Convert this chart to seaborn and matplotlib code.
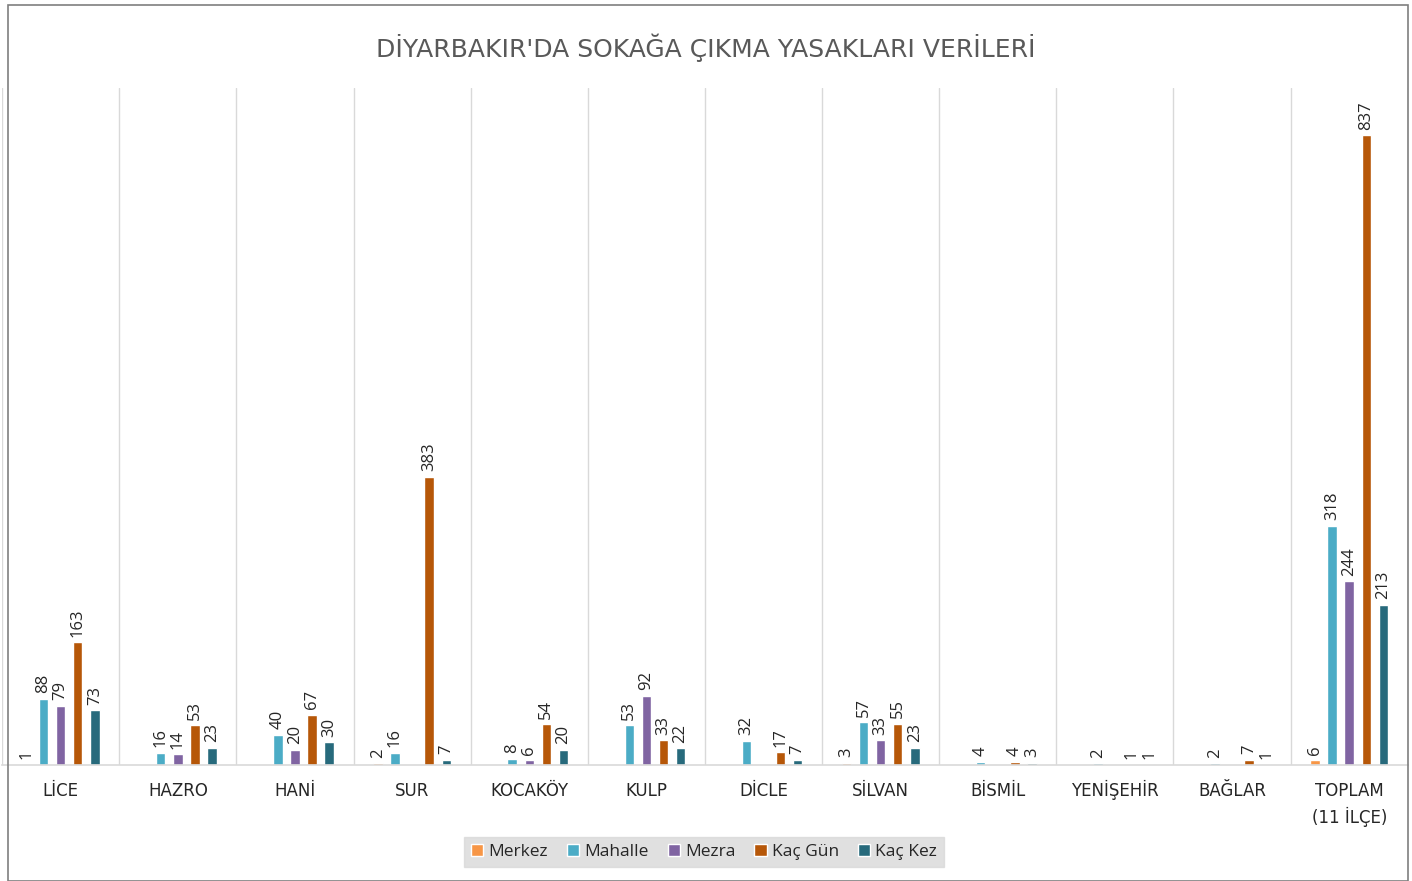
import numpy as np
import pandas as pd
import matplotlib.pyplot as plt
import seaborn as sns
from matplotlib.patches import Rectangle
from matplotlib.transforms import ScaledTranslation


ilceler = ["LİCE", "HAZRO", "HANİ", "SUR", "KOCAKÖY", "KULP", "DİCLE",
           "SİLVAN", "BİSMİL", "YENİŞEHİR", "BAĞLAR", "TOPLAM\n(11 İLÇE)"]
seriler = ["Merkez", "Mahalle", "Mezra", "Kaç Gün", "Kaç Kez"]

merkez = [1, np.nan, np.nan, 2, np.nan, np.nan, np.nan, 3, np.nan, np.nan, np.nan, 6]
mahalle = [88, 16, 40, 16, 8, 53, 32, 57, 4, 2, 2, 318]
mezra = [79, 14, 20, np.nan, 6, 92, np.nan, 33, np.nan, np.nan, np.nan, 244]
kac_gun = [163, 53, 67, 383, 54, 33, 17, 55, 4, 1, 7, 837]
kac_kez = [73, 23, 30, 7, 20, 22, 7, 23, 3, 1, 1, 213]

renkler = ["#F79646", "#4BACC6", "#8064A2", "#B65708", "#276A7C"]

rows = []
for seri, degerler in zip(seriler, [merkez, mahalle, mezra, kac_gun, kac_kez]):
    for ilce, d in zip(ilceler, degerler):
        rows.append({"ilce": ilce, "seri": seri, "deger": d})
df = pd.DataFrame(rows)

sns.set_style("white")
plt.rcParams["font.family"] = ["Open Sans", "DejaVu Sans"]

fig = plt.figure(figsize=(14.12, 8.81), dpi=100)
ax = fig.add_axes([0.0015, 0.1317, 0.9955, 0.7684])

sns.barplot(
    data=df.dropna(),
    x="ilce",
    y="deger",
    hue="seri",
    order=ilceler,
    hue_order=seriler,
    palette=renkler,
    saturation=1,
    width=0.73,
    gap=0.45,
    errorbar=None,
    ax=ax,
)

for cont in ax.containers:
    ax.bar_label(
        cont,
        labels=[f"{v:.0f}" for v in cont.datavalues],
        rotation=90,
        padding=4,
        fontsize=12,
        color="#262626",
    )

ax.set_ylim(0, 900)
ax.set_xlim(-0.5, len(ilceler) - 0.5)
ax.set_xlabel("")
ax.set_ylabel("")
ax.set_yticks([])

# kategori ayraçları
ax.set_xticks(np.arange(len(ilceler) + 1) - 0.5, minor=True)
ax.grid(True, which="minor", axis="x", color="#D9D9D9", linewidth=1)
ax.tick_params(axis="x", which="minor", length=9, color="#D9D9D9", width=1)
ax.tick_params(axis="x", which="major", length=0, pad=22)

for lbl in ax.get_xticklabels():
    lbl.set_family(["DejaVu Sans"])
    lbl.set_fontsize(12)
    lbl.set_color("#262626")
    lbl.set_linespacing(1.4)
    lbl.set_verticalalignment("baseline")
    if "\n" in lbl.get_text():
        # iki satırlı etikette baseline son satıra göre; ilk satırı hizala
        lbl.set_transform(lbl.get_transform()
                          + ScaledTranslation(0, -0.27, fig.dpi_scale_trans))

for s in ["top", "left", "right"]:
    ax.spines[s].set_visible(False)
ax.spines["bottom"].set_color("#D9D9D9")
ax.spines["bottom"].set_linewidth(1.2)

fig.text(
    0.5, 0.9455,
    "DİYARBAKIR'DA SOKAĞA ÇIKMA YASAKLARI VERİLERİ",
    ha="center", va="center",
    fontsize=18, color="#595959", family=["DejaVu Sans"],
)

handles, labels = ax.get_legend_handles_labels()
ax.legend_.remove()
leg = fig.legend(
    handles, labels,
    loc="center",
    bbox_to_anchor=(0.4986, 0.033),
    ncol=5,
    fontsize=12.5,
    frameon=True,
    handlelength=0.7,
    handleheight=0.7,
    handletextpad=0.3,
    columnspacing=1.1,
    borderpad=0.4,
    fancybox=False,
)
leg.get_frame().set_facecolor("#D9D9D9")
leg.get_frame().set_edgecolor("#D9D9D9")
for t in leg.get_texts():
    t.set_color("#262626")

fig.patches.append(
    Rectangle((0.006, 0.0), 0.9915, 0.994, transform=fig.transFigure,
              fill=False, edgecolor="#7F7F7F", linewidth=1.2)
)

plt.savefig("out.png", dpi=100)
